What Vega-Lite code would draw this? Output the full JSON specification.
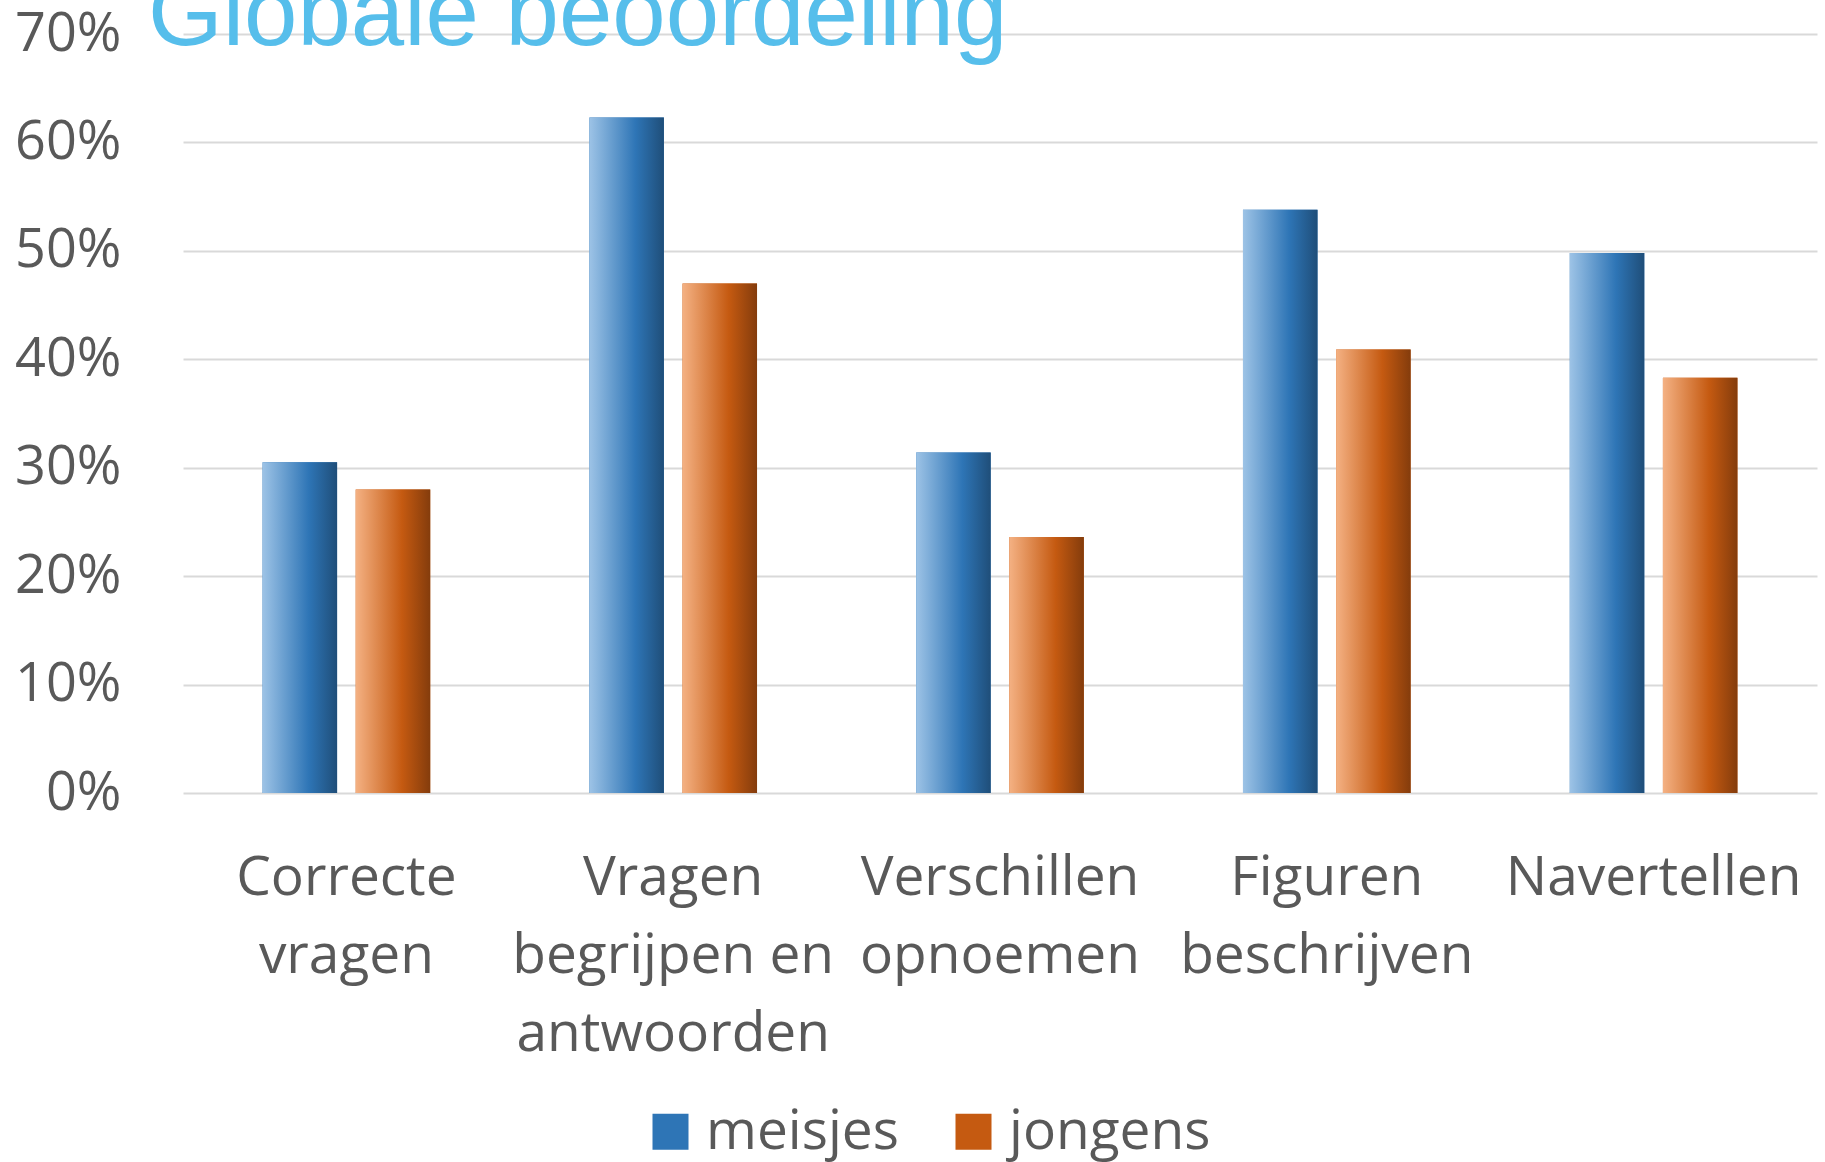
{
  "$schema": "https://vega.github.io/schema/vega-lite/v6.json",
  "autosize": {"type": "none"},
  "padding": {"left": 183, "top": 34, "right": 8, "bottom": 369},
  "width": 1634,
  "height": 759,
  "background": "#ffffff",
  "title": {
    "text": "Globale beoordeling",
    "anchor": "start",
    "frame": "group",
    "font": "Liberation Sans",
    "fontSize": 96,
    "fontWeight": "normal",
    "color": "#56BEEB",
    "baseline": "alphabetic",
    "offset": 0,
    "dx": -35,
    "dy": 134
  },
  "data": {
    "values": [
      {"categorie": "Correcte vragen", "groep": "meisjes", "waarde": 0.305},
      {"categorie": "Correcte vragen", "groep": "jongens", "waarde": 0.280},
      {"categorie": "Vragen begrijpen en antwoorden", "groep": "meisjes", "waarde": 0.623},
      {"categorie": "Vragen begrijpen en antwoorden", "groep": "jongens", "waarde": 0.470},
      {"categorie": "Verschillen opnoemen", "groep": "meisjes", "waarde": 0.314},
      {"categorie": "Verschillen opnoemen", "groep": "jongens", "waarde": 0.236},
      {"categorie": "Figuren beschrijven", "groep": "meisjes", "waarde": 0.538},
      {"categorie": "Figuren beschrijven", "groep": "jongens", "waarde": 0.409},
      {"categorie": "Navertellen", "groep": "meisjes", "waarde": 0.498},
      {"categorie": "Navertellen", "groep": "jongens", "waarde": 0.383}
    ]
  },
  "encoding": {
    "x": {
      "field": "categorie",
      "type": "nominal",
      "sort": null,
      "scale": {"paddingInner": 0.487, "paddingOuter": 0.2435},
      "axis": {
        "title": null,
        "labelAngle": 0,
        "labelFont": "Open Sans",
        "labelFontSize": 55,
        "labelColor": "#595959",
        "labelLineHeight": 78,
        "labelBaseline": "top",
        "labelPadding": 58,
        "labelLimit": 0,
        "ticks": false,
        "domain": false,
        "grid": false,
        "labelExpr": "datum.value == 'Vragen begrijpen en antwoorden' ? ['Vragen', 'begrijpen en', 'antwoorden'] : split(datum.value, ' ')"
      }
    },
    "xOffset": {
      "field": "groep",
      "type": "nominal",
      "sort": ["meisjes", "jongens"],
      "scale": {"paddingInner": 0.2, "paddingOuter": 0}
    },
    "y": {
      "field": "waarde",
      "type": "quantitative",
      "scale": {"domain": [0, 0.7], "nice": false},
      "axis": {
        "title": null,
        "format": ".0%",
        "values": [0, 0.1, 0.2, 0.3, 0.4, 0.5, 0.6, 0.7],
        "labelFont": "Open Sans",
        "labelFontSize": 54,
        "labelColor": "#595959",
        "labelPadding": 62,
        "ticks": false,
        "domain": false,
        "grid": true,
        "gridColor": "#D9D9D9",
        "gridWidth": 2,
        "zindex": 0
      }
    }
  },
  "layer": [
    {
      "mark": {"type": "bar"},
      "encoding": {
        "color": {
          "field": "groep",
          "type": "nominal",
          "sort": ["meisjes", "jongens"],
          "scale": {"domain": ["meisjes", "jongens"], "range": ["#2E75B6", "#C55A11"]},
          "legend": {
            "title": null,
            "orient": "none",
            "direction": "horizontal",
            "legendX": 460,
            "legendY": 1070,
            "symbolType": "square",
            "symbolSize": 1296,
            "symbolStrokeWidth": 0,
            "labelFont": "Open Sans",
            "labelFontSize": 55,
            "labelColor": "#595959",
            "labelOffset": 8,
            "columnPadding": 47,
            "labelLimit": 0
          }
        }
      }
    },
    {
      "mark": {"type": "bar"},
      "encoding": {
        "color": {
          "condition": {
            "test": "datum.groep === 'meisjes'",
            "value": {"gradient": "linear", "x1": 0, "y1": 0, "x2": 1, "y2": 0,
              "stops": [{"offset": 0, "color": "#9DC3E6"}, {"offset": 0.62, "color": "#2E75B6"}, {"offset": 1, "color": "#1F4E79"}]}
          },
          "value": {"gradient": "linear", "x1": 0, "y1": 0, "x2": 1, "y2": 0,
            "stops": [{"offset": 0, "color": "#F4B183"}, {"offset": 0.62, "color": "#C55A11"}, {"offset": 1, "color": "#843C0C"}]}
        }
      }
    }
  ],
  "config": {
    "view": {"stroke": null}
  }
}
